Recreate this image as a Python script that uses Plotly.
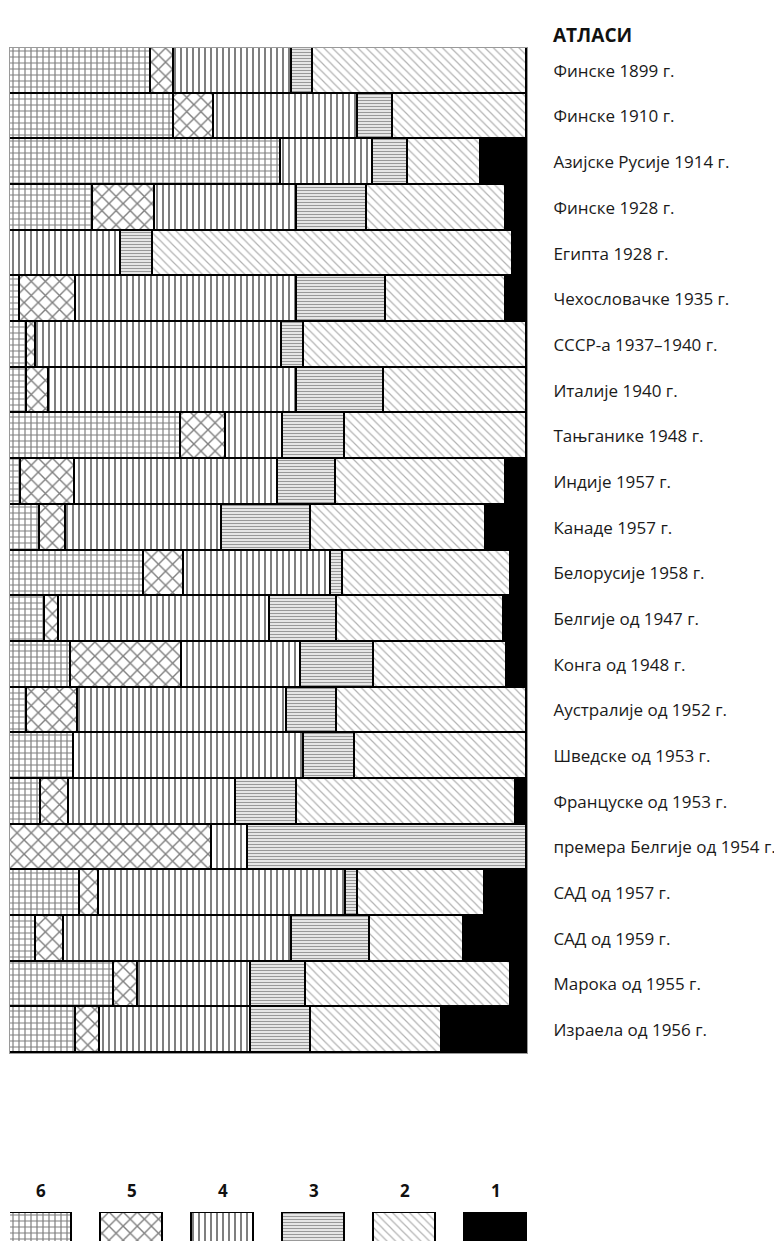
import plotly.graph_objects as go

# ---------------- data ----------------
atlases = [
    "Финске 1899 г.", "Финске 1910 г.", "Азијске Русије 1914 г.", "Финске 1928 г.",
    "Египта 1928 г.", "Чехословачке 1935 г.", "СССР-а 1937–1940 г.", "Италије 1940 г.",
    "Тањганике 1948 г.", "Индије 1957 г.", "Канаде 1957 г.", "Белорусије 1958 г.",
    "Белгије од 1947 г.", "Конга од 1948 г.", "Аустралије од 1952 г.", "Шведске од 1953 г.",
    "Француске од 1953 г.", "премера Белгије од 1954 г.", "САД од 1957 г.", "САД од 1959 г.",
    "Марока од 1955 г.", "Израела од 1956 г.",
]
categories = ["6", "5", "4", "3", "2", "1"]

share_6 = [27.3, 31.7, 52.5, 16.1, 0.0, 2.0, 3.3, 3.3, 33.0, 2.1, 5.8, 26.0, 6.8, 11.8, 3.3, 12.3, 6.0, 0.0, 13.6, 5.0, 20.1, 12.8]
share_5 = [4.4, 7.8, 0.0, 11.9, 0.0, 10.8, 1.7, 4.2, 8.8, 10.4, 5.0, 7.6, 2.7, 21.5, 9.8, 0.0, 5.5, 39.0, 3.6, 5.5, 4.7, 4.7]
share_4 = [22.9, 27.8, 17.7, 27.6, 21.5, 42.7, 47.6, 48.0, 11.0, 39.4, 30.3, 28.4, 40.8, 23.0, 40.5, 44.6, 32.3, 7.1, 47.8, 44.1, 21.9, 29.2]
share_3 = [4.0, 6.8, 6.8, 13.4, 6.2, 17.2, 4.3, 16.8, 11.9, 11.1, 17.1, 2.4, 13.0, 14.2, 9.7, 9.8, 11.7, 53.9, 2.3, 15.1, 10.5, 11.5]
share_2 = [41.4, 25.9, 14.1, 26.9, 69.5, 23.2, 43.1, 27.7, 35.3, 32.9, 33.9, 32.5, 32.2, 25.7, 36.7, 33.3, 42.3, 0.0, 24.5, 18.1, 39.7, 25.4]
share_1 = [0.0, 0.0, 8.9, 4.1, 2.8, 4.1, 0.0, 0.0, 0.0, 4.1, 7.9, 3.1, 4.5, 3.8, 0.0, 0.0, 2.2, 0.0, 8.2, 12.3, 3.1, 16.4]

title_text = "АТЛАСИ"

# ---------------- styles ----------------
series = [share_6, share_5, share_4, share_3, share_2, share_1]
styles = {
    "6": dict(color="white", pattern=dict(shape="+", size=6, solidity=0.36, fgcolor="#000000", bgcolor="white")),
    "5": dict(color="white", pattern=dict(shape="x", size=10, solidity=0.26, fgcolor="#000000", bgcolor="white")),
    "4": dict(color="white", pattern=dict(shape="|", size=6, solidity=0.34, fgcolor="#000000", bgcolor="white")),
    "3": dict(color="white", pattern=dict(shape="-", size=3, solidity=0.5, fgcolor="#333333", bgcolor="white")),
    "2": dict(color="white", pattern=dict(shape="\\", size=6, solidity=0.2, fgcolor="#666666", bgcolor="white")),
    "1": dict(color="black", pattern=dict(shape="")),
}

# page body has an 8px margin, so the figure is placed 8px right/down
OFF = 8
W, H = 782 - OFF, 1241 - OFF
FONT = "Open Sans"


def px(xr):
    return (xr - OFF) / W


def py(yr):
    return 1 - (yr - OFF) / H


fig = go.Figure()

for cat, vals in zip(categories, series):
    st = styles[cat]
    fig.add_trace(go.Bar(
        y=atlases, x=vals, orientation="h", name=cat,
        marker=dict(color=st["color"], pattern=st["pattern"],
                    line=dict(color="black", width=1.8)),
        showlegend=False, hoverinfo="skip",
        xaxis="x", yaxis="y",
    ))

# legend swatches as a second small bar subplot
for cat in categories:
    st = styles[cat]
    fig.add_trace(go.Bar(
        x=[cat], y=[3], base=[-2], width=0.68,
        marker=dict(color=st["color"], pattern=st["pattern"],
                    line=dict(color="black", width=1.8)),
        showlegend=False, hoverinfo="skip",
        xaxis="x2", yaxis="y2",
    ))

for i, cat in enumerate(categories):
    fig.add_annotation(x=i, xref="x2", y=py(1190), yref="paper",
                       text=f"<b>{cat}</b>", showarrow=False,
                       font=dict(family=FONT, size=17, color="#111"),
                       xanchor="center", yanchor="middle")

x0, x1 = px(10), px(527)
fig.update_layout(
    width=W, height=H,
    margin=dict(l=0, r=0, t=0, b=0),
    paper_bgcolor="white", plot_bgcolor="white",
    barmode="stack", bargap=0,
    title=dict(text=f"<b>{title_text}</b>", x=px(553), xanchor="left", xref="paper",
               y=py(35), yanchor="middle", yref="paper",
               font=dict(family=FONT, size=19, color="#111")),
    xaxis=dict(domain=[x0, x1], range=[0, 100], showgrid=False, zeroline=False,
               showticklabels=False, showline=True, mirror=True,
               linecolor="#9a9a9a", linewidth=1, fixedrange=True),
    yaxis=dict(domain=[py(1053), py(48)], autorange="reversed",
               side="right", showgrid=False, zeroline=False,
               showline=True, mirror=True, linecolor="#9a9a9a", linewidth=1,
               ticks="", ticklabelstandoff=22,
               tickfont=dict(family=FONT, size=17, color="#1a1a1a"), fixedrange=True),
    xaxis2=dict(domain=[x0, x1], type="category", range=[-0.34, 5.34],
                showgrid=False, zeroline=False,
                showticklabels=False, showline=False, anchor="y2", fixedrange=True,
                categoryorder="array", categoryarray=categories),
    yaxis2=dict(domain=[0, py(1212)], range=[-1, 1.05], showgrid=False,
                zeroline=False, showticklabels=False, showline=False, anchor="x2",
                fixedrange=True),
)

fig.write_html("out.html")
